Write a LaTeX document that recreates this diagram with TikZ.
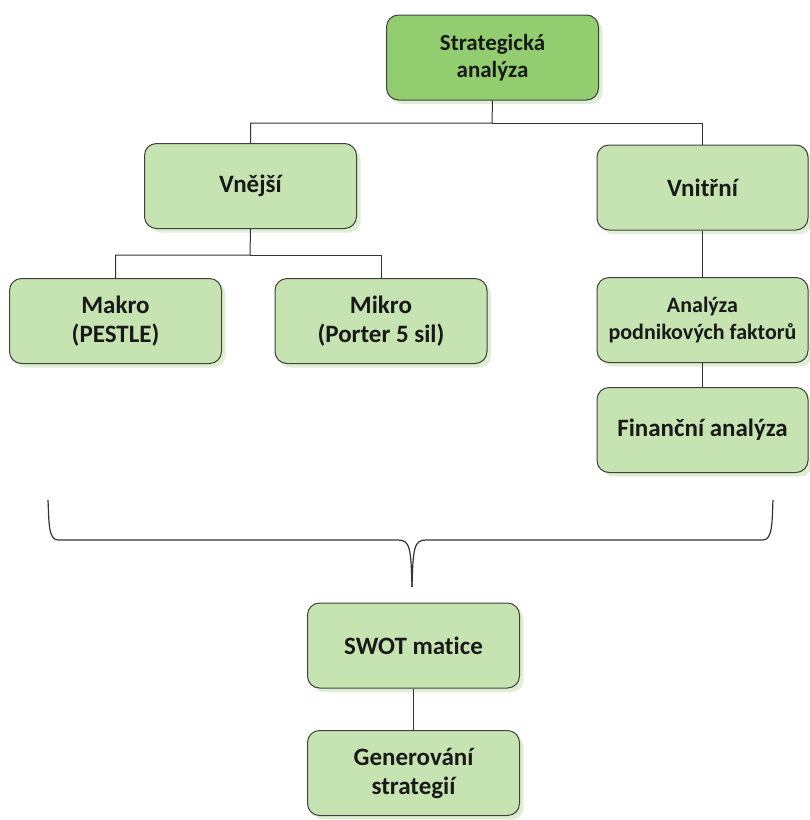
\documentclass[tikz,border=0pt]{standalone}
\usepackage{fontspec}
\setmainfont{Carlito}[RawFeature=-liga]
\usetikzlibrary{shadows}
\definecolor{darkgreen}{HTML}{92CD70}
\definecolor{lightgreen}{HTML}{C6E4B2}
\definecolor{glow}{HTML}{D6EBC8}
\definecolor{edge}{HTML}{404040}
\begin{document}
\begin{tikzpicture}[x=1pt,y=-1pt,
  box/.style={draw=edge, line width=1pt, rounded corners=12pt, fill=lightgreen,
    minimum width=212pt, minimum height=85pt, align=center,
    font=\bfseries\fontsize{25}{29}\selectfont, text=black!90,
    drop shadow={shadow xshift=4pt, shadow yshift=-4pt, fill=glow, opacity=0.8}},
  topbox/.style={box, fill=darkgreen, font=\bfseries\fontsize{23}{27}\selectfont},
  smallbox/.style={box, font=\bfseries\fontsize{22}{27}\selectfont},
  link/.style={draw=black!80, line width=1pt}]
\useasboundingbox (0,0) rectangle (810,820);
\node[topbox] (sa) at (492.5,57.5) {Strategická\\analýza};
\node[box] (vne) at (250.5,186) {Vnější};
\node[box, minimum width=211pt] (vni) at (702.5,187.5) {Vnitřní};
\node[box] (mak) at (115.5,321) {Makro\\(PESTLE)};
\node[box] (mik) at (381,321) {Mikro\\(Porter 5 sil)};
\node[smallbox, minimum width=211pt] (anp) at (702.5,320) {Analýza\\podnikových faktorů};
\node[box, minimum width=211pt] (fin) at (702.5,430) {Finanční analýza};
\node[box] (swot) at (413.5,645.5) {SWOT matice};
\node[box] (gen) at (413.5,773) {Generování\\strategií};
% connectors
\coordinate (j1) at (492,123);
\draw[link] (sa.south) -- (j1) -| (vne.north);
\draw[link] (j1) -| (vni.north);
\coordinate (j2) at (250,255);
\draw[link] (vne.south) -- (j2) -| (mak.north);
\draw[link] (j2) -| (mik.north);
\draw[link] (vni.south) -- (anp.north);
\draw[link] (anp.south) -- (fin.north);
\draw[link] (swot.south) -- (gen.north);
% brace
\coordinate (bl) at (48,500);
\coordinate (br) at (773,500);
\coordinate (bt) at (412,587);
\draw[draw=black!80, line width=1.2pt]
  (bl) .. controls (49,520) and (48,540) .. (58,540)
  -- (398,540) .. controls (410,540) and (411,548) .. (bt);
\draw[draw=black!80, line width=1.2pt]
  (br) .. controls (772,520) and (773,540) .. (763,540)
  -- (426,540) .. controls (414,540) and (413,548) .. (bt);
\end{tikzpicture}
\end{document}
